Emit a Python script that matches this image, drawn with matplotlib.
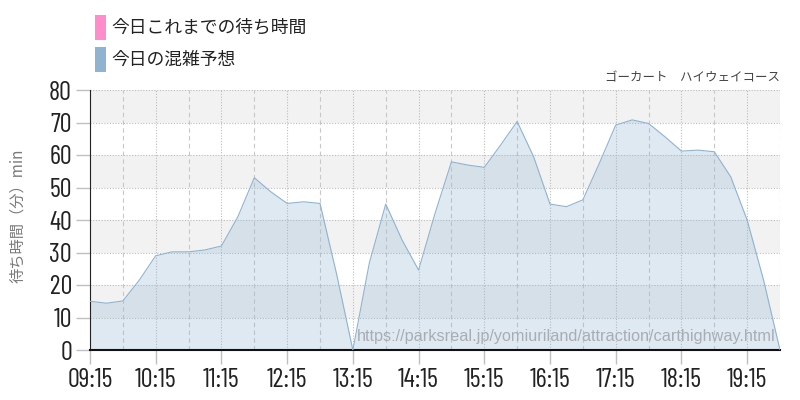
import numpy as np
import matplotlib
matplotlib.use("Agg")
import matplotlib.pyplot as plt
from matplotlib.patches import Rectangle

# waiting time forecast, every 15 min from 09:15 to 19:45
start_min = 9 * 60 + 15
forecast = [15, 14.4, 15.1, 21.5, 29, 30.2, 30.2, 30.8, 32, 41, 53,
            48.7, 45.1, 45.6, 45.1, 23.6, 0, 26.7, 44.9, 33.8, 24.6, 42,
            57.9, 56.9, 56.2, 63.1, 70.3, 59.5, 44.9, 44.1, 46.2, 57.4,
            69.2, 70.8, 69.7, 65.6, 61.2, 61.5, 61, 53.3, 40, 21.5, 0]
times = start_min + 15 * np.arange(len(forecast))
tick_labels = ["09:15", "10:15", "11:15", "12:15", "13:15", "14:15",
               "15:15", "16:15", "17:15", "18:15", "19:15"]
y_ticks = [0, 10, 20, 30, 40, 50, 60, 70, 80]

legend_labels = ["今日これまでの待ち時間", "今日の混雑予想"]
legend_colors = ["#ff8ccb", "#8fb3d1"]
title_right = "ゴーカート　ハイウェイコース"
ylabel = "待ち時間（分）min"
source_url = "https://parksreal.jp/yomiuriland/attraction/carthighway.html"

cjk = ["Noto Sans CJK JP", "DejaVu Sans"]
num_font = ["Barlow Condensed", "DejaVu Sans"]

fig = plt.figure(figsize=(8, 4), dpi=100)
ax = fig.add_axes([0.1125, 0.125, 0.8625, 0.65])

xmin, xmax = times[0], times[-1]
ax.set_xlim(xmin, xmax)
ax.set_ylim(0, 80)

# alternating grey bands
for lo in range(10, 80, 20):
    ax.axhspan(lo, lo + 10, color="#f2f2f2", zorder=0, lw=0)

# grid
for y in y_ticks[1:]:
    ax.axhline(y, color="#bdbdbd", lw=0.8, ls=(0, (1, 1.5)), zorder=1)
for i, t in enumerate(range(xmin, xmax + 1, 30)):
    if i % 2 == 0:
        ax.axvline(t, color="#bdbdbd", lw=0.8, ls=(0, (1, 1.5)), zorder=1)
    else:
        ax.axvline(t, color="#c8c8c8", lw=0.8, ls=(0, (4, 3)), zorder=1)

ax.fill_between(times, forecast, 0, color="#8fb3d1", alpha=0.28, lw=0, zorder=2)
ax.plot(times, forecast, color="#8fb3d1", lw=0.8, zorder=3)

ax.set_xticks(range(xmin, xmax, 60))
ax.set_xticklabels(tick_labels, fontfamily=num_font, fontsize=19, color="#222222")
ax.set_yticks(y_ticks)
ax.set_yticklabels([str(v) for v in y_ticks], fontfamily=num_font, fontsize=19,
                   color="#222222")
ax.tick_params(axis="both", color="#c0c0c0", length=10, width=1)
ax.tick_params(axis="x", pad=3)
ax.tick_params(axis="y", pad=3)

for side in ["top", "right"]:
    ax.spines[side].set_visible(False)
ax.spines["left"].set_color("#222222")
ax.spines["bottom"].set_color("#111111")
ax.spines["bottom"].set_linewidth(1.5)

ax.text(0.993, 0.025, source_url, transform=ax.transAxes, ha="right", va="bottom",
        fontsize=11.7, color="#a8adb3", fontfamily=["Liberation Sans", "DejaVu Sans"],
        zorder=4)

fig.text(0.975, 0.805, title_right, ha="right", va="center", fontsize=9,
         color="#444444", fontfamily=cjk)
fig.text(0.022, 0.46, ylabel, rotation=90, ha="center", va="center",
         fontsize=11, color="#7a7a7a", fontfamily=cjk)

# legend
for i, (lab, col) in enumerate(zip(legend_labels, legend_colors)):
    ytop = 15 + i * 32
    fig.patches.append(Rectangle((95 / 800, 1 - (ytop + 25) / 400), 11 / 800, 25 / 400,
                                 transform=fig.transFigure, color=col, lw=0))
    fig.text(111 / 800, 1 - (ytop + 13) / 400, lab, ha="left", va="center",
             fontsize=12.8, color="#222222", fontfamily=cjk)

fig.savefig("out.png", dpi=100)
